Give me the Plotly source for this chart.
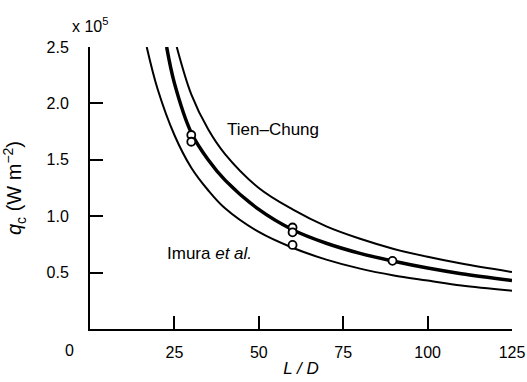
import plotly.graph_objects as go

# Curves (L/D, q_c in units of 1e5 W m^-2)
imura_x = [16.8, 20, 25, 30, 35, 40, 50, 60, 70, 80, 90, 100, 110, 125]
imura_q = [2.50, 2.13, 1.72, 1.43, 1.23, 1.07, 0.86, 0.72, 0.615, 0.535, 0.475, 0.43, 0.385, 0.34]

mid_x = [22.7, 25, 30, 35, 40, 50, 60, 70, 80, 90, 100, 110, 125]
mid_q = [2.50, 2.18, 1.74, 1.50, 1.32, 1.06, 0.88, 0.76, 0.67, 0.60, 0.54, 0.49, 0.43]

tien_x = [25.7, 30, 35, 40, 50, 60, 70, 80, 90, 100, 110, 125]
tien_q = [2.50, 2.08, 1.77, 1.55, 1.25, 1.06, 0.91, 0.80, 0.71, 0.64, 0.58, 0.505]

# Experimental points
pts_x = [30, 30, 60, 60, 60, 89.6]
pts_q = [1.72, 1.66, 0.90, 0.857, 0.745, 0.604]

x_ticks = [25, 50, 75, 100, 125]
y_ticks = [0.5, 1.0, 1.5, 2.0, 2.5]
y_tick_text = ["0.5", "1.0", "1.5", "2.0", "2.5"]

FONT = "Liberation Sans, Arial, Helvetica, sans-serif"

fig = go.Figure()
for xs, qs, w in [(imura_x, imura_q, 2), (mid_x, mid_q, 3.5), (tien_x, tien_q, 2)]:
    fig.add_trace(go.Scatter(x=xs, y=qs, mode="lines",
                             line=dict(color="black", width=w, shape="spline", smoothing=1.0),
                             showlegend=False, hoverinfo="skip"))
fig.add_trace(go.Scatter(x=pts_x, y=pts_q, mode="markers",
                         marker=dict(symbol="circle", size=8, color="white",
                                     line=dict(color="black", width=1.8)),
                         showlegend=False))

fig.update_layout(
    width=527, height=382,
    margin=dict(l=90, r=15, t=47, b=53),
    paper_bgcolor="white", plot_bgcolor="white",
    font=dict(family=FONT, size=16, color="black"),
    xaxis=dict(range=[0, 125], tickvals=x_ticks, ticks="inside", ticklen=13,
               tickwidth=1.6, tickcolor="black", showline=True, linecolor="black",
               linewidth=2, showgrid=False, zeroline=False, ticklabelstandoff=8,
               automargin=False,
               title=dict(text="<i>L / D</i>", font=dict(size=17), standoff=2)),
    yaxis=dict(range=[0, 2.5], tickvals=y_ticks, ticktext=y_tick_text, ticks="inside",
               ticklen=13, tickwidth=1.6, tickcolor="black", showline=True,
               linecolor="black", linewidth=2, showgrid=False, zeroline=False,
               ticklabelstandoff=16, automargin=False,
               title=dict(text="<i>q</i><sub>c</sub> (W m<sup>−2</sup>)",
                          font=dict(size=20), standoff=22)),
    annotations=[
        dict(x=54.1, y=1.77, xref="x", yref="y", text="Tien–Chung", showarrow=False,
             font=dict(size=17)),
        dict(x=35.5, y=0.665, xref="x", yref="y", text="Imura <i>et al.</i>",
             showarrow=False, font=dict(size=17)),
        dict(x=0.0, y=1.078, xref="paper", yref="paper", text="x 10<sup>5</sup>",
             xanchor="center", yanchor="middle", showarrow=False, font=dict(size=16)),
        dict(x=-0.048, y=-0.0745, xref="paper", yref="paper", text="0",
             xanchor="center", yanchor="middle", showarrow=False, font=dict(size=16)),
    ],
)

fig.write_html("out.html", config={"displayModeBar": False},
               post_script="document.body.style.margin='0';")
